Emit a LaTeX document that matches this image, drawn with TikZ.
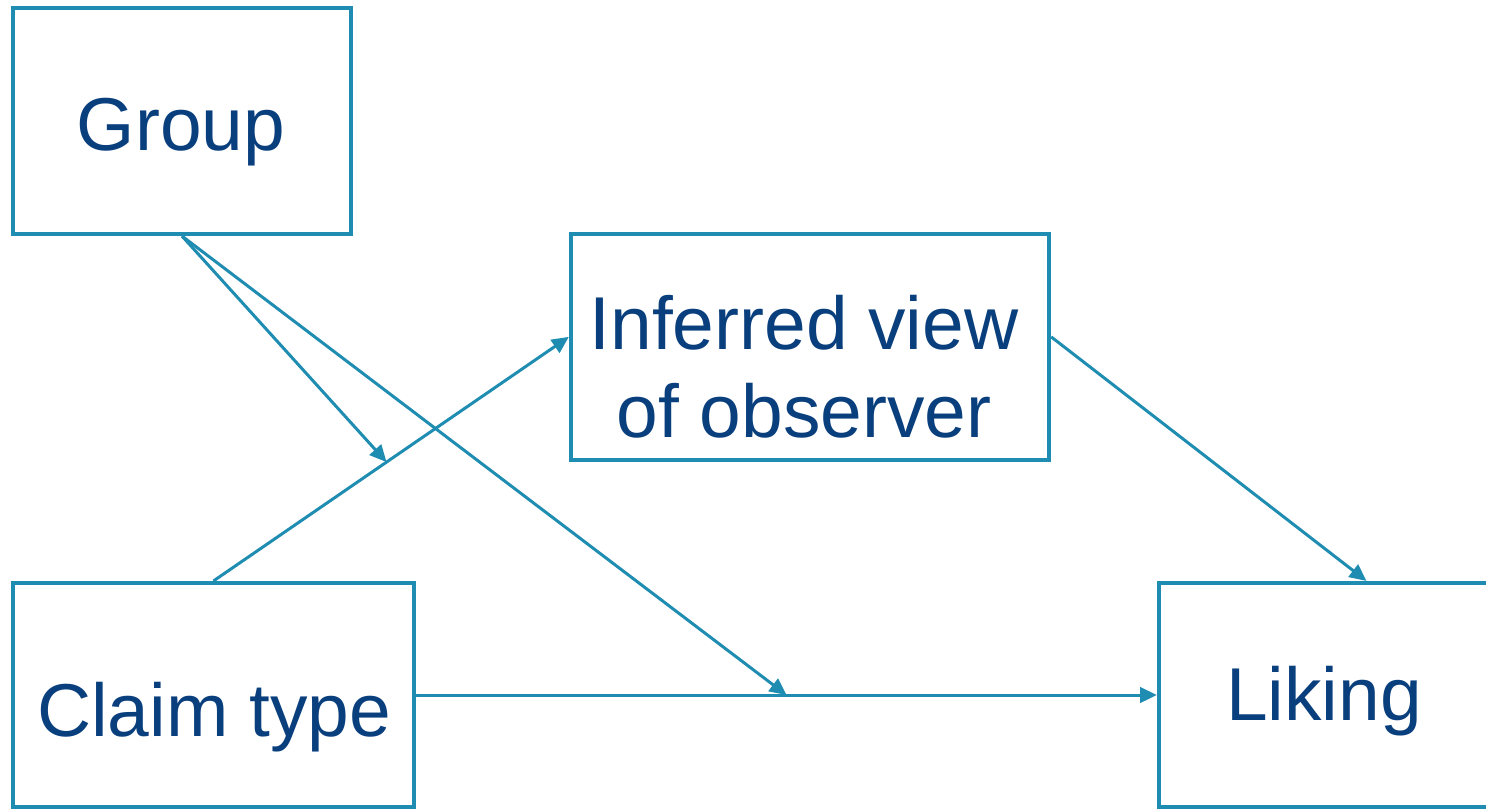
\documentclass[tikz,border=0pt]{standalone}
\usepackage{fontspec}
\setmainfont{Liberation Sans}
\usepackage{tikz}
\usetikzlibrary{arrows.meta,calc}
\definecolor{linkblue}{HTML}{1F8CB1}
\definecolor{textblue}{HTML}{0A3F7D}
\tikzset{
  varbox/.style={draw=linkblue,line width=1.15pt,minimum width=#1,minimum height=2.26cm,inner sep=0pt},
  varbox/.default=3.38cm,
  varlabel/.style={text=textblue,font=\fontsize{21.3}{25}\selectfont,align=center,inner sep=0pt},
  link/.style={draw=linkblue,line width=0.85pt,-{Triangle[length=4.8pt,width=4.4pt]}}
}
\begin{document}
\begin{tikzpicture}[x=0.01cm,y=-0.01cm]
  \useasboundingbox (0,0) rectangle (1486,809);
  % boxes
  \node[varbox=3.38cm] (group) at (182,121) {};
  \node[varbox=4.78cm] (infer) at (810,347) {};
  \node[varbox=4.01cm,minimum height=2.24cm] (claim) at (213.5,695) {};
  \node[varbox=3.30cm,minimum height=2.24cm] (liking) at (1324,695) {};
  % labels
  \node[varlabel,anchor=base] (grouptxt) at (181,150) {Group};
  \node[varlabel,anchor=base] (infertxt) at (804,437) {Inferred view\\of observer};
  \node[varlabel,anchor=base] (claimtxt) at (214,736) {Claim type};
  \node[varlabel,anchor=base] (likingtxt) at (1324,720) {Liking};
  % anchor points on the boxes
  \coordinate (inferin) at ($(infer.north west)!0.456!(infer.south west)$);
  \coordinate (inferout) at ($(infer.north east)!0.456!(infer.south east)$);
  \coordinate (likingin) at ($(liking.north west)!0.627!(liking.north east)$);
  \coordinate (modA) at ($(claim.north)!0.487!(inferin)$);
  \coordinate (modB) at ($(claim.east)!0.5!(liking.west)$);
  % paths
  \draw[link] (claim.north) -- (inferin);
  \draw[link] (claim.east) -- (liking.west);
  \draw[link] (inferout) -- (likingin);
  \draw[link] (group.south) -- (modA);
  \draw[link] (group.south) -- (modB);
\end{tikzpicture}
\end{document}
